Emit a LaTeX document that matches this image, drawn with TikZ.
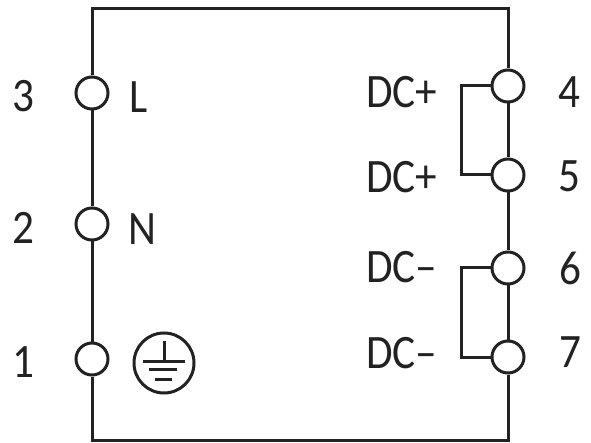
\documentclass[tikz,border=0pt]{standalone}
\usepackage{fontspec}
\setmainfont[FakeStretch=0.9]{Carlito}
\definecolor{ink}{HTML}{222222}
\tikzset{
  x=1pt,y=-1pt,
  wire/.style={draw=ink,line width=3pt},
  term/.style={circle,draw=ink,line width=3pt,fill=white,minimum size=32pt,inner sep=0pt},
  lab/.style={text=ink,font=\fontsize{48}{48}\selectfont,inner sep=0pt},
  earth/.style={circle,draw=ink,line width=3pt,minimum size=60pt,inner sep=0pt},
  earthbar/.style={draw=ink,line width=3pt}
}
\begin{document}
\begin{tikzpicture}
\useasboundingbox (0,0) rectangle (591,443);
\node[term] (t3) at (92,93) {};
\node[term] (t2) at (92,224) {};
\node[term] (t1) at (92,359) {};
\node[term] (t4) at (508,86) {};
\node[term] (t5) at (508,175) {};
\node[term] (t6) at (508,268) {};
\node[term] (t7) at (508,357) {};
\coordinate (tl) at (92,9);
\coordinate (tr) at (508,9);
\coordinate (bl) at (92,440);
\coordinate (br) at (508,440);
\draw[wire,line join=miter] (t3.north) -- (tl) -- (tr) -- (t4.north);
\draw[wire] (t3.south) -- (t2.north);
\draw[wire] (t2.south) -- (t1.north);
\draw[wire,line join=miter] (t1.south) -- (bl) -- (br) -- (t7.south);
\draw[wire] (t4.south) -- (t5.north);
\draw[wire] (t5.south) -- (t6.north);
\draw[wire] (t6.south) -- (t7.north);
\draw[wire,line join=miter] (t4.west) -| (461,130) |- (t5.west);
\draw[wire,line join=miter] (t6.west) -| (461,310) |- (t7.west);
\node[earth] (pe) at (164,363) {};
\coordinate (pe1) at (164,341);
\coordinate (pe2) at (164,361);
\draw[earthbar] (pe1) -- (pe2);
\draw[earthbar] (143,361) -- (185,361);
\draw[earthbar] (149,369) -- (177,369);
\draw[earthbar] (155,379) -- (172,379);
\node[lab] (n3) at (23,96) {3};
\node[lab] (n2) at (23,228) {2};
\node[lab] (n1) at (23,362) {1};
\node[lab] (nL) at (139,97) {L};
\node[lab] (nN) at (142,229) {N};
\node[lab] (n4) at (569,92) {4};
\node[lab] (n5) at (569,176) {5};
\node[lab] (n6) at (570,268) {6};
\node[lab] (n7) at (570,352) {7};
\node[lab,anchor=west] (d1) at (366,92) {DC+};
\node[lab,anchor=west] (d2) at (366,177) {DC+};
\node[lab,anchor=west] (d3) at (366,267) {DC–};
\node[lab,anchor=west] (d4) at (366,353) {DC–};
\end{tikzpicture}
\end{document}
